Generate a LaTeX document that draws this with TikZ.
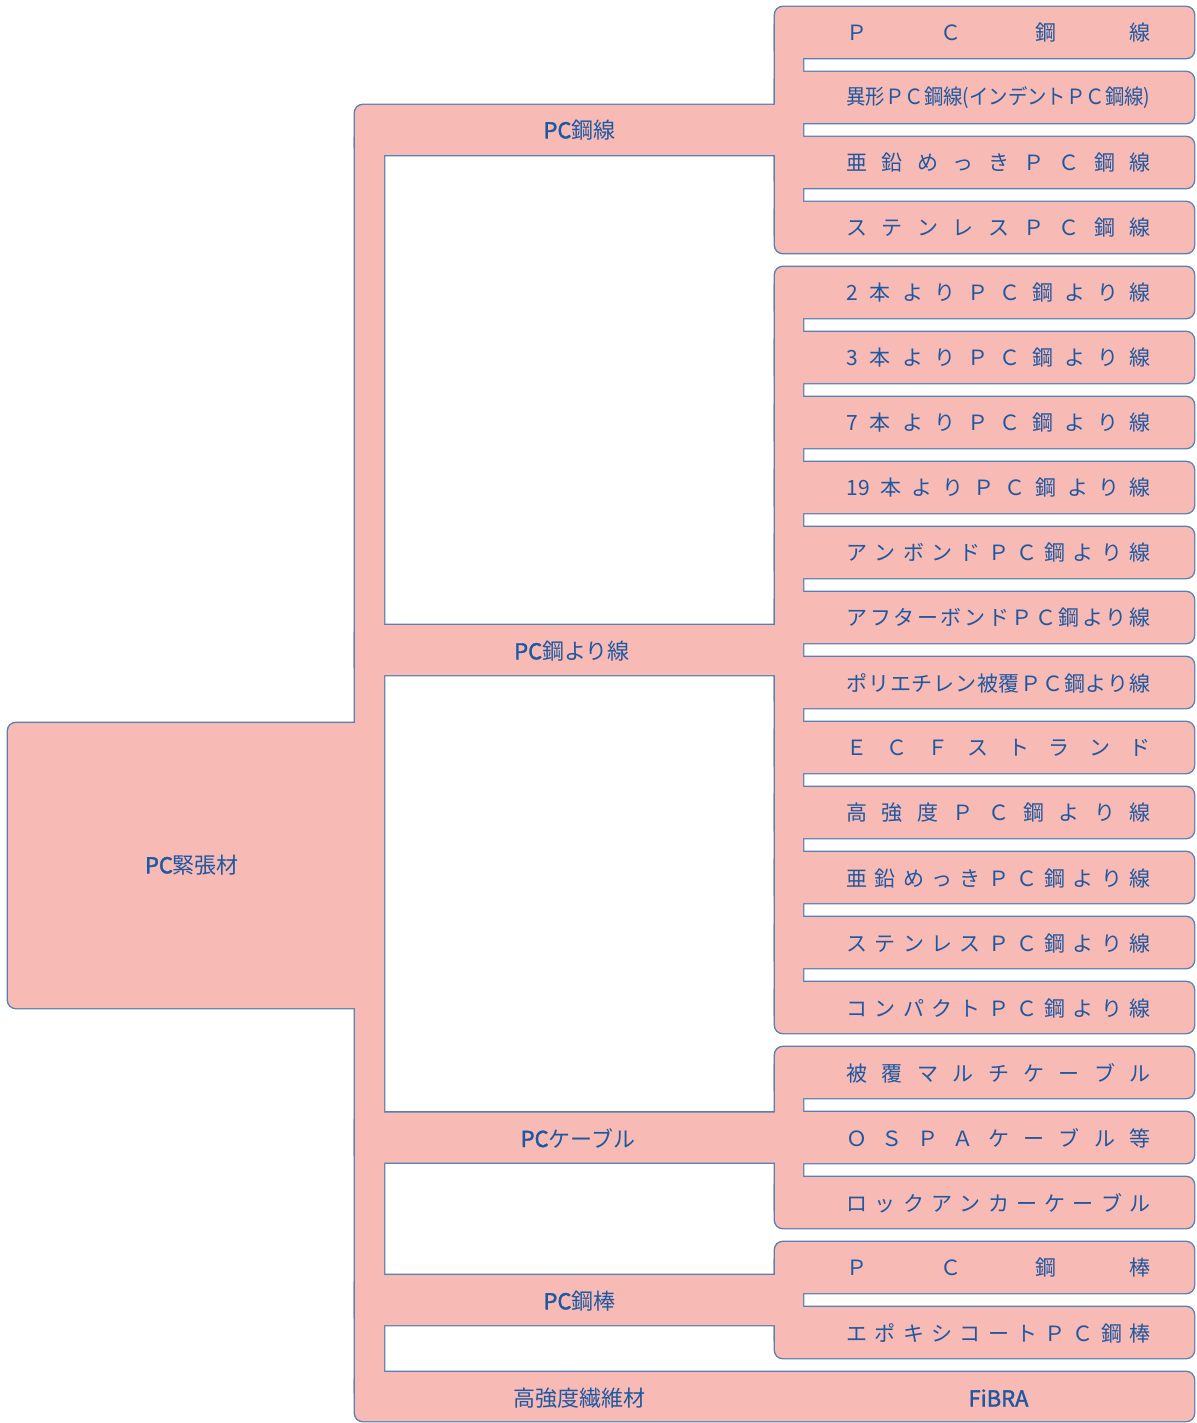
\documentclass[tikz,border=0pt]{standalone}
\usepackage{fontspec}
\setmainfont{Noto Sans CJK JP}
\newfontfamily\pcheavy[FakeBold=1.6]{Noto Sans CJK JP}
\usepackage{graphicx}

\definecolor{pcpink}{RGB}{247,186,181}
\definecolor{pcline}{RGB}{88,128,178}
\definecolor{pcblue}{RGB}{30,88,160}

\tikzset{
  rimpass/.style={draw=pcline, line width=1.4pt, rounded corners=4pt},
  fillpass/.style={fill=pcpink, rounded corners=4pt},
  leaf/.style={text=pcblue, font=\fontsize{10.5}{12}\selectfont, inner sep=0pt},
  branch/.style={text=pcblue, font=\fontsize{11}{13}\selectfont, inner sep=0pt}
}

% spread the characters of a leaf label over the label width
\ExplSyntaxOn
\NewDocumentCommand\spreadtext{m}{\makebox[152pt][s]{\tl_map_inline:nn{#1}{##1\hfill}\unskip}}
\ExplSyntaxOff

% all pink blocks, drawn once for the rim and once for the fill
\newcommand{\pcblocks}[1]{%
  \path[#1] (8,723) rectangle (370,1008);
  \path[#1] (355,130) rectangle (384,1400);
  \path[#1] (355,1372) rectangle (1194,1421);
  \foreach \first/\last in {0/3,4/15,16/18,19/20}{
    \pgfmathsetmacro\ytop{7+65*\first}
    \pgfmathsetmacro\ybot{58+65*\last}
    \pgfmathsetmacro\ymid{(\ytop+\ybot)/2}
    \path[#1] (355,\ymid-25) rectangle (790,\ymid+25);
    \path[#1] (775,\ytop+10) rectangle (803,\ybot-10);
  }
  \foreach \k in {0,...,20}
    \path[#1] (775,7+65*\k) rectangle (1194,58+65*\k);
}

\begin{document}
\begin{tikzpicture}[x=0.5pt,y=-0.5pt]
\useasboundingbox (0,0) rectangle (1197,1423);
\pcblocks{rimpass}
\pcblocks{fillpass}

\node[branch] (tendon) at (192,865) {{\pcheavy PC}緊張材};
\node[branch] (wire) at (579.5,130) {{\pcheavy PC}鋼線};
\node[branch] (strand) at (572,651) {{\pcheavy PC}鋼より線};
\node[branch] (cable) at (578,1138) {{\pcheavy PC}ケーブル};
\node[branch] (bar) at (579.5,1301) {{\pcheavy PC}鋼棒};
\node[branch] (fibre) at (579.5,1398) {高強度繊維材};
\node[branch] (fibra) at (998.5,1398) {\pcheavy FiBRA};

\node[leaf] (wireA) at (998.5,33) {\spreadtext{ＰＣ鋼線}};
\node[leaf] (wireB) at (998.5,98) {\resizebox{152pt}{\height}{異形ＰＣ鋼線(インデントＰＣ鋼線)}};
\node[leaf] (wireC) at (998.5,163) {\spreadtext{亜鉛めっきＰＣ鋼線}};
\node[leaf] (wireD) at (998.5,228) {\spreadtext{ステンレスＰＣ鋼線}};
\node[leaf] (strandA) at (998.5,293) {\spreadtext{2本よりＰＣ鋼より線}};
\node[leaf] (strandB) at (998.5,358) {\spreadtext{3本よりＰＣ鋼より線}};
\node[leaf] (strandC) at (998.5,423) {\spreadtext{7本よりＰＣ鋼より線}};
\node[leaf] (strandD) at (998.5,488) {\spreadtext{{19}本よりＰＣ鋼より線}};
\node[leaf] (strandE) at (998.5,553) {\spreadtext{アンボンドＰＣ鋼より線}};
\node[leaf] (strandF) at (998.5,618) {\spreadtext{アフターボンドＰＣ鋼より線}};
\node[leaf] (strandG) at (998.5,683) {\spreadtext{ポリエチレン被覆ＰＣ鋼より線}};
\node[leaf] (strandH) at (998.5,748) {\spreadtext{ＥＣＦストランド}};
\node[leaf] (strandI) at (998.5,813) {\spreadtext{高強度ＰＣ鋼より線}};
\node[leaf] (strandJ) at (998.5,878) {\spreadtext{亜鉛めっきＰＣ鋼より線}};
\node[leaf] (strandK) at (998.5,943) {\spreadtext{ステンレスＰＣ鋼より線}};
\node[leaf] (strandL) at (998.5,1008) {\spreadtext{コンパクトＰＣ鋼より線}};
\node[leaf] (cableA) at (998.5,1073) {\spreadtext{被覆マルチケーブル}};
\node[leaf] (cableB) at (998.5,1138) {\spreadtext{ＯＳＰＡケーブル等}};
\node[leaf] (cableC) at (998.5,1203) {\spreadtext{ロックアンカーケーブル}};
\node[leaf] (barA) at (998.5,1268) {\spreadtext{ＰＣ鋼棒}};
\node[leaf] (barB) at (998.5,1333) {\spreadtext{エポキシコートＰＣ鋼棒}};
\end{tikzpicture}
\end{document}
